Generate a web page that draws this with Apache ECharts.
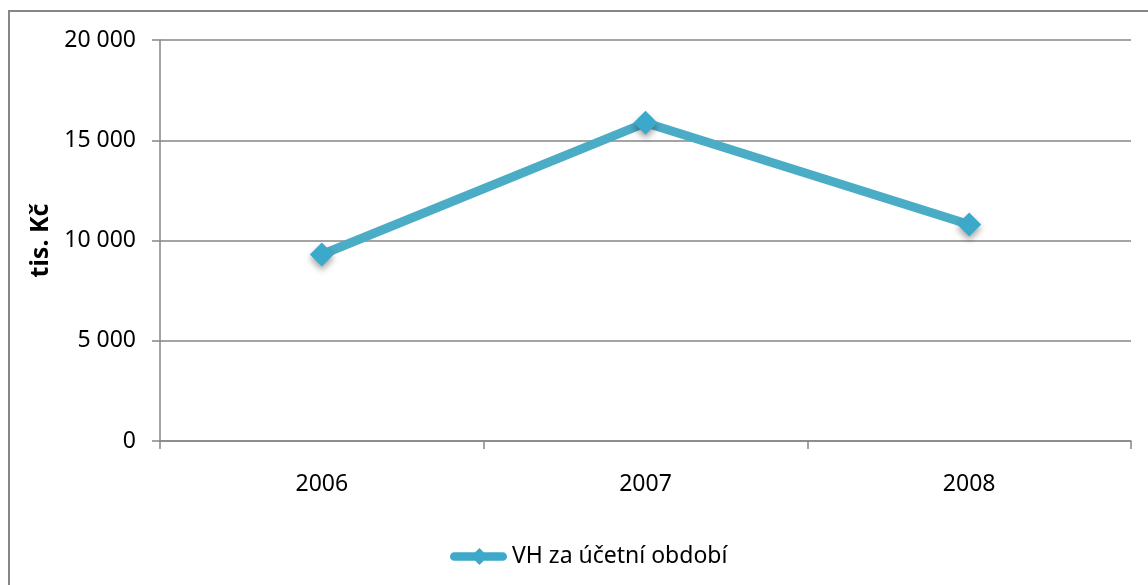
<!DOCTYPE html>
<html>
<head>
<meta charset="utf-8">
<script src="https://cdn.jsdelivr.net/npm/echarts@6/dist/echarts.min.js"></script>
<style>
html,body{margin:0;padding:0;background:#fff;}
#chart{width:1148px;height:585px;}
</style>
</head>
<body>
<div id="chart"></div>
<script>
var categories = ['2006', '2007', '2008'];
var seriesName = 'VH za účetní období';
var values = [9300, 15870, 10800];
var yTicks = [0, 5000, 10000, 15000, 20000];
var yAxisTitle = 'tis. Kč';

var FONT = 'Noto Sans';
var chart = echarts.init(document.getElementById('chart'));
function fmt(v){ return String(v).replace(/\B(?=(\d{3})+(?!\d))/g, ' '); }
var legendIcon = 'path://M4.5,4.5 L55.5,4.5 A4.5,4.5 0 0 1 55.5,13.5 L4.5,13.5 A4.5,4.5 0 0 1 4.5,4.5 Z M31,0 L40,9 L31,18 L22,9 Z';
chart.setOption({
  animation: false,
  backgroundColor: '#fff',
  graphic: [{
    type: 'rect',
    shape: {x: 9, y: 11, width: 2000, height: 2000},
    style: {fill: 'none', stroke: '#868686', lineWidth: 2},
    silent: true
  }],
  grid: {left: 160, right: 17, top: 40, bottom: 144, containLabel: false},
  legend: {
    data: [{name: seriesName, icon: legendIcon}],
    top: 540,
    left: 445,
    itemWidth: 57,
    itemHeight: 18,
    textStyle: {fontFamily: FONT, fontSize: 23, color: '#000'}
  },
  xAxis: {
    type: 'category',
    data: categories,
    boundaryGap: true,
    axisLine: {lineStyle: {color: '#868686', width: 1.5}},
    axisTick: {show: true, length: 8, lineStyle: {color: '#868686', width: 1.5}},
    axisLabel: {fontFamily: FONT, fontSize: 23, color: '#000', margin: 32}
  },
  yAxis: {
    type: 'value',
    min: yTicks[0],
    max: yTicks[yTicks.length - 1],
    interval: yTicks[1] - yTicks[0],
    name: yAxisTitle,
    nameLocation: 'middle',
    nameGap: 106,
    nameRotate: 90,
    nameTextStyle: {fontFamily: FONT, fontSize: 25, fontWeight: 'bold', color: '#000'},
    axisLine: {show: true, lineStyle: {color: '#868686', width: 1.5}},
    axisTick: {show: true, length: 8, lineStyle: {color: '#868686', width: 1.5}},
    splitLine: {lineStyle: {color: '#868686', width: 1.5}},
    axisLabel: {fontFamily: FONT, fontSize: 23, color: '#000', margin: 24, formatter: fmt}
  },
  series: [{
    name: seriesName,
    type: 'line',
    data: values,
    symbol: 'diamond',
    symbolSize: 24,
    lineStyle: {color: '#4BACC6', width: 9},
    itemStyle: {color: '#3DA9CA', shadowBlur: 6, shadowOffsetY: 4, shadowColor: 'rgba(0,0,0,0.35)'}
  }]
});
</script>
</body>
</html>
